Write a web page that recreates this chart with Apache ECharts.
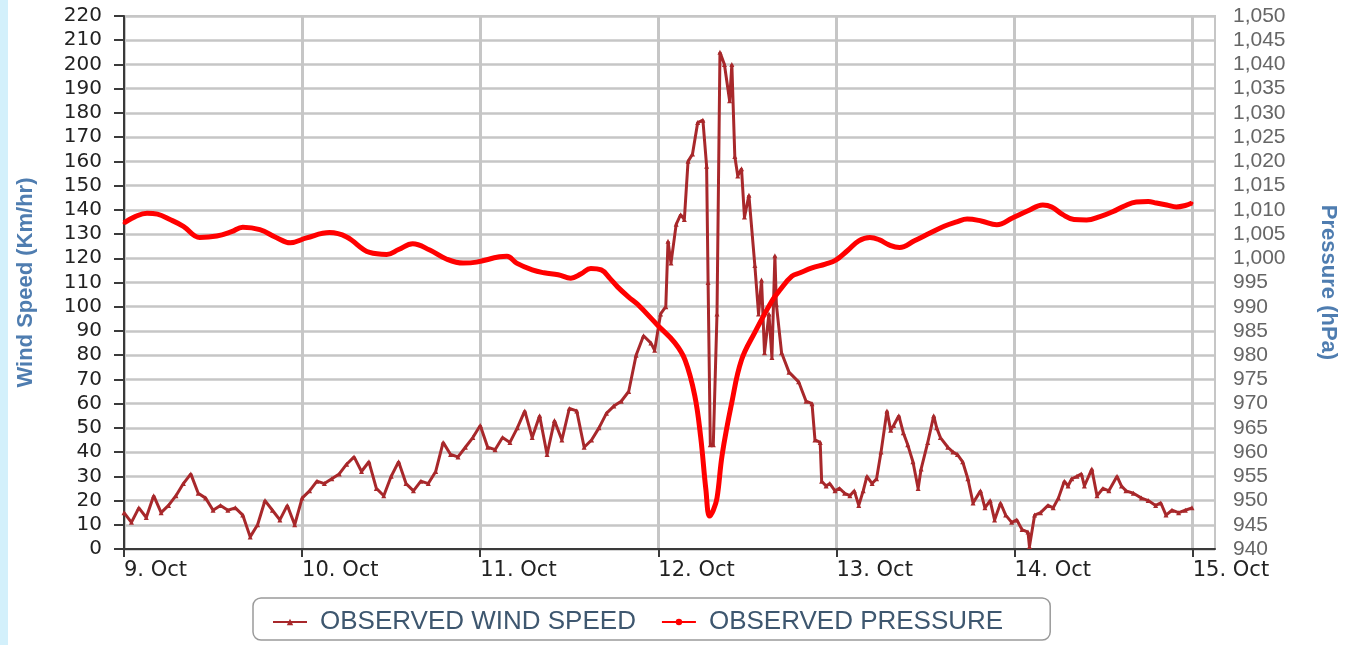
<!DOCTYPE html>
<html>
<head>
<meta charset="utf-8">
<script src="https://cdn.jsdelivr.net/npm/echarts@6/dist/echarts.min.js"></script>
<style>
  html, body { margin: 0; padding: 0; background: #ffffff; }
  #strip { position: absolute; left: 0; top: 0; width: 8px; height: 645px; background: #d3f0fb; }
  #chart { position: absolute; left: 0; top: 0; width: 1353px; height: 645px; }
</style>
</head>
<body>
<div id="strip"></div>
<div id="chart"></div>
<script>
// ---- tick labels (x axis, hours from 9 Oct 00:00) ----
const dayLabels = ['9. Oct', '10. Oct', '11. Oct', '12. Oct', '13. Oct', '14. Oct', '15. Oct'];
const tickHours = [0, 24, 48, 72, 96, 120, 144];

// ---- observed wind speed (Km/hr); time in hours after 9 Oct 00:00 ----
const windHours = [
  0, 1, 2, 3, 4, 5, 6, 7, 8, 9, 10, 11, 12, 13, 14, 15, 16, 17, 18, 19, 20, 21, 22, 23,
  24, 25, 26, 27, 28, 29, 30, 31, 32, 33, 34, 35, 36, 37, 38, 39, 40, 41, 42, 43, 44, 45, 46, 47,
  48, 49, 50, 51, 52, 53, 54, 55, 56, 57, 58, 59, 60, 61, 62, 63, 64, 65, 66, 67, 68, 69, 70, 71,
  71.5, 72.3, 73.0, 73.3, 73.7, 74.4, 75.0, 75.5, 76.0, 76.6, 77.3, 78.0, 78.5, 78.7, 79.0, 79.4, 79.9, 80.3, 80.9, 81.6,
  81.9, 82.3, 82.7, 83.2, 83.6, 84.2, 85.0, 85.5, 85.9, 86.3, 86.9, 87.3, 87.7, 87.9, 88.6, 89.6, 90.9, 91.9, 92.7, 93.1,
  93.8, 94.0, 94.6, 95.1, 95.8, 96.4, 97.1, 97.8, 98.4, 99.0, 99.6, 100.1, 100.8, 101.4, 102.0, 102.8, 103.3, 103.7, 104.4, 105.0,
  105.6, 106.3, 107.0, 107.4, 108.3, 109.1, 109.5, 110.0, 111.0, 111.7, 112.3, 113.0, 113.7, 114.4, 115.4, 116.0, 116.7, 117.3, 118.1, 118.8,
  119.6, 120.3, 121.0, 121.8, 122.0, 122.7, 123.5, 124.5, 125.2, 125.9, 126.7, 127.2, 127.7, 128.4, 129.0, 129.4, 130.4, 131.1, 131.9, 132.7,
  133.8, 134.4, 135.0, 136.0, 137.1, 138.0, 139.0, 139.7, 140.4, 141.2, 142.1, 143.0, 143.9
];
const windSpeed = [
  15, 11, 17, 13, 22, 15, 18, 22, 27, 31, 23, 21, 16, 18, 16, 17, 14, 5, 10, 20, 16, 12, 18, 10,
  21, 24, 28, 27, 29, 31, 35, 38, 32, 36, 25, 22, 30, 36, 27, 24, 28, 27, 32, 44, 39, 38, 42, 46,
  51, 42, 41, 46, 44, 50, 57, 46, 55, 39, 53, 45, 58, 57, 42, 45, 50, 56, 59, 61, 65, 80, 88, 85,
  82, 97, 100, 127, 118, 134, 138, 136, 160, 163, 176, 177, 158, 110, 43, 43, 97, 205, 200, 185,
  200, 162, 154, 157, 137, 146, 117, 97, 111, 81, 97, 79, 121, 101, 81, 73, 69, 61, 60, 45,
  44, 28, 26, 27, 24, 25, 23, 22, 24, 18, 24, 30, 27, 29, 40, 57, 49, 51, 55, 48,
  43, 36, 25, 33, 44, 55, 50, 46, 42, 40, 39, 36, 29, 19, 24, 17, 20, 12, 19, 14,
  11, 12, 8, 7, 1, 14, 15, 18, 17, 21, 28, 26, 29, 30, 31, 26, 33, 22, 25, 24,
  30, 26, 24, 23, 21, 20, 18, 19, 14, 16, 15, 16, 17
];

// ---- observed pressure (hPa); time in hours after 9 Oct 00:00 ----
const pressureHours = [
  0, 1.5, 3.1, 4.5, 6.2, 8, 10.2, 12.5, 14.5, 16, 18.3, 20.5, 22.4, 24.6, 27.7, 30, 33.1, 35.4, 37, 38.9,
  41.2, 43.5, 45.7, 47.5, 50.6, 51.6, 52.9, 55, 56.6, 58.5, 60.2, 61.6, 62.9, 64.3, 65.5, 66.5, 68, 69.2, 71.9, 74.2,
  75.6, 76.9, 77.7, 78.4, 78.9, 79.4, 79.9, 80.6, 81.9, 83.2, 85.0, 87.3, 88.4, 90.0, 91.1, 92.7, 94.5, 95.9, 97.5, 99,
  100.5, 101.8, 103, 104.5, 106.5, 108.6, 110.5, 112.2, 113.6, 115.5, 117.6, 119.7, 121.8, 123.8, 125, 126.5, 128, 129.7, 131.5, 133.2,
  134.8, 136.4, 138, 139.1, 140.5, 141.8, 143, 143.9
];
const pressure = [
  1007.3, 1008.6, 1009.3, 1009.1, 1008.0, 1006.6, 1004.3, 1004.6, 1005.5, 1006.4, 1005.9, 1004.3, 1003.2, 1004.2, 1005.3, 1004.4, 1001.2, 1000.8, 1001.8, 1003.0,
  1001.7, 999.8, 999.0, 999.2, 1000.3, 1000.4, 999.0, 997.6, 997.0, 996.6, 995.9, 996.8, 997.9, 997.6, 995.8, 994.1, 992.0, 990.5, 986.2, 982.6,
  979.0, 971.7, 963.1, 952.3, 946.8, 948.0, 950.5, 959.5, 970.3, 979.0, 984.7, 991.2, 993.5, 996.3, 997.0, 998.0, 998.8, 999.6, 1001.6, 1003.6,
  1004.3, 1003.8, 1002.8, 1002.2, 1003.6, 1005.2, 1006.6, 1007.5, 1008.1, 1007.7, 1006.9, 1008.3, 1009.8, 1011.0, 1010.6, 1009.0, 1008.0, 1007.9, 1008.6, 1009.6,
  1010.8, 1011.6, 1011.7, 1011.4, 1011.0, 1010.6, 1010.9, 1011.4
];

const windData = windHours.map((h, i) => [h, windSpeed[i]]);
const pressureData = pressureHours.map((h, i) => [h, pressure[i]]);

const chart = echarts.init(document.getElementById('chart'), null, { renderer: 'canvas' });
const gridColor = '#c6c6c6';
const option = {
  animation: false,
  grid: {
    left: 124, right: 138, top: 16, bottom: 96,
    outerBoundsMode: 'none', containLabel: false,
    show: true, borderColor: gridColor, borderWidth: 2, backgroundColor: 'transparent'
  },
  legend: {
    left: 253, top: 598,
    padding: [11, 47, 5, 19],
    itemGap: 25, itemWidth: 34, itemHeight: 8,
    borderColor: '#9a9a9a', borderWidth: 1.5, borderRadius: 8,
    textStyle: { fontSize: 26, color: '#3E576F', fontFamily: 'Liberation Sans', padding: [0, 0, 0, 8] },
    data: ['OBSERVED WIND SPEED', 'OBSERVED PRESSURE']
  },
  xAxis: {
    type: 'value', min: 0, max: 147, interval: 24,
    axisLine: { show: true, lineStyle: { color: '#3a3a3a', width: 2 } },
    axisTick: { show: true, length: 8, customValues: tickHours, lineStyle: { color: '#3a3a3a', width: 2 } },
    axisLabel: {
      customValues: tickHours, align: 'left', margin: 11,
      fontSize: 21, fontFamily: 'DejaVu Sans', color: '#222',
      formatter: v => { const i = tickHours.indexOf(v); return i >= 0 ? dayLabels[i] : ''; }
    },
    splitLine: { show: true, lineStyle: { color: gridColor, width: 3 } }
  },
  yAxis: [
    {
      type: 'value', min: 0, max: 220, interval: 10, position: 'left',
      name: 'Wind Speed (Km/hr)', nameLocation: 'middle', nameGap: 87, nameMoveOverlap: false,
      nameTextStyle: { color: '#4f7db0', fontWeight: 'bold', fontSize: 22, fontFamily: 'Liberation Sans' },
      axisLine: { show: true, lineStyle: { color: '#3a3a3a', width: 2 } },
      axisTick: { show: true, length: 10, lineStyle: { color: '#3a3a3a', width: 2 } },
      axisLabel: { margin: 22, fontSize: 20, fontFamily: 'DejaVu Sans', color: '#222' },
      splitLine: { show: true, lineStyle: { color: gridColor, width: 2.5 } }
    },
    {
      type: 'value', min: 940, max: 1050, interval: 5, position: 'right',
      name: 'Pressure (hPa)', nameLocation: 'middle', nameRotate: -90, nameGap: 102, nameMoveOverlap: false,
      nameTextStyle: { color: '#4f7db0', fontWeight: 'bold', fontSize: 22, fontFamily: 'Liberation Sans' },
      axisLine: { show: false }, axisTick: { show: false },
      axisLabel: { margin: 18, fontSize: 21, fontFamily: 'Liberation Sans', color: '#666',
        formatter: v => v.toLocaleString('en-US') },
      splitLine: { show: false }
    }
  ],
  series: [
    {
      name: 'OBSERVED WIND SPEED', type: 'line', yAxisIndex: 0, data: windData,
      lineStyle: { color: '#a8282b', width: 3 },
      itemStyle: { color: '#a8282b' },
      symbol: 'triangle', symbolSize: 5, showAllSymbol: true
    },
    {
      name: 'OBSERVED PRESSURE', type: 'line', yAxisIndex: 1, data: pressureData,
      smooth: 0.4,
      lineStyle: { color: '#ff0000', width: 5 },
      itemStyle: { color: '#ff0000' },
      symbol: 'circle', symbolSize: 3, showAllSymbol: true
    }
  ]
};
chart.setOption(option);
</script>
</body>
</html>
